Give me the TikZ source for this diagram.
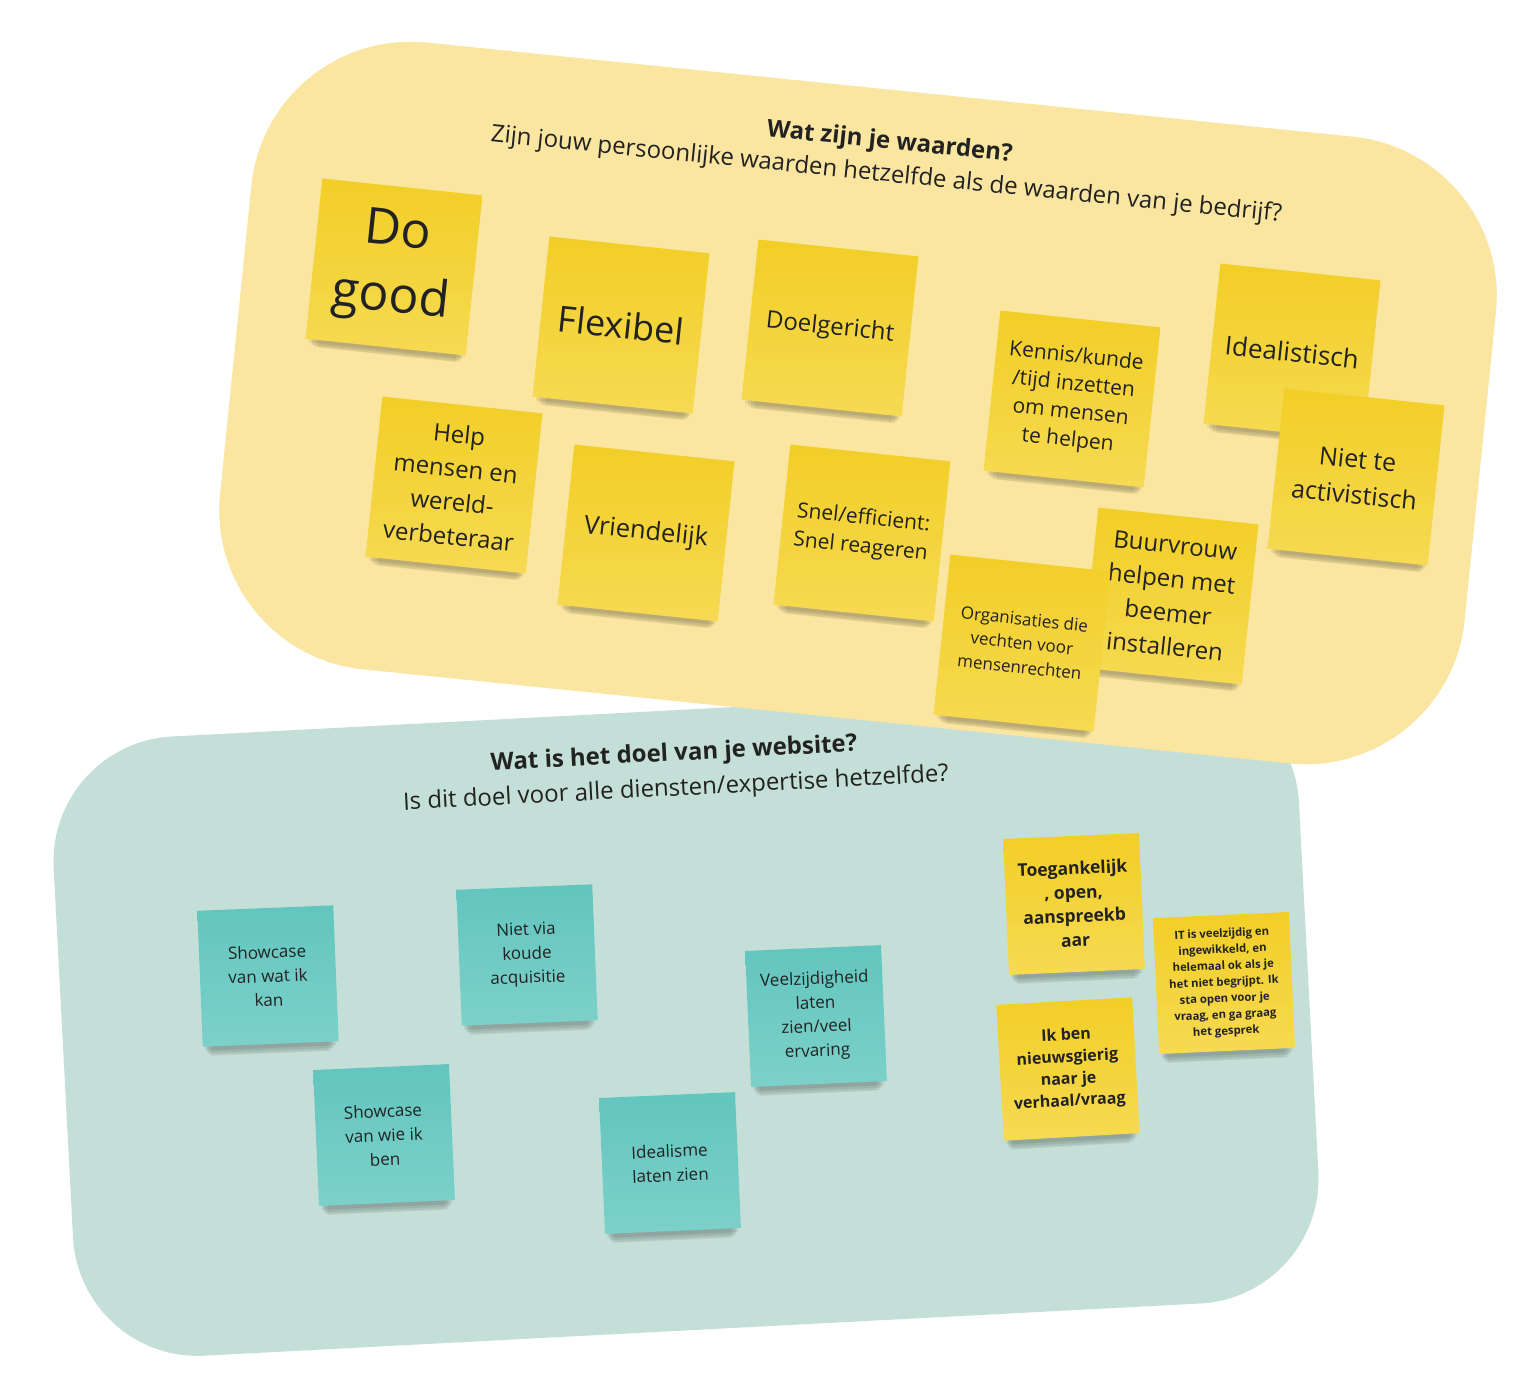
\documentclass[tikz,border=0pt]{standalone}
\usepackage{fontspec}
\setmainfont{Open Sans}
\usetikzlibrary{shadows}
\definecolor{ypanel}{RGB}{250,230,160}
\definecolor{tpanel}{RGB}{196,223,215}
\definecolor{ytop}{RGB}{242,206,38}
\definecolor{ybot}{RGB}{246,218,82}
\definecolor{ttop}{RGB}{98,197,190}
\definecolor{tbot}{RGB}{124,209,201}
\definecolor{ink}{RGB}{34,34,34}
\newcommand{\fs}[2]{\fontsize{#1}{#2}\selectfont}
\tikzset{
  panel/.style={inner sep=0pt, draw=none},
  liftshadow/.style={
    general shadow={fill=black, opacity=0.08, shadow scale=0.96, shadow yshift=-7pt},
    general shadow={fill=black, opacity=0.08, shadow scale=0.93, shadow yshift=-12pt},
    general shadow={fill=black, opacity=0.07, shadow scale=0.90, shadow yshift=-17pt},
    general shadow={fill=black, opacity=0.05, shadow scale=0.86, shadow yshift=-22pt}},
  sticky/.style={liftshadow, minimum width=#1, minimum height=#1, inner sep=0pt, align=center, text=ink},
  ysticky/.style={sticky=161pt, rotate=-6, top color=ytop, bottom color=ybot},
  tsticky/.style={sticky=136pt, rotate=#1, top color=ttop, bottom color=tbot},
  ysmall/.style={sticky=136pt, rotate=#1, top color=ytop, bottom color=ybot},
  title/.style={align=center, text=ink, inner sep=0pt}
}
\begin{document}
\begin{tikzpicture}[x=1pt,y=-1pt]
\useasboundingbox[fill=white] (0,0) rectangle (1520,1397);

% ---- teal panel ----
\node[panel, fill=tpanel, rotate=3, minimum width=1247pt, minimum height=620pt, rounded corners=125pt] (tp) at (686,1020) {};
\node[title, rotate=3, font=\fs{24}{35}] (ttitle) at (675,772) {\textbf{Wat is het doel van je website?}\\Is dit doel voor alle diensten/expertise hetzelfde?};

\node[tsticky=2.3, font=\fs{17}{24}] (show1) at (268,976) {Showcase\\van wat ik\\kan};
\node[tsticky=2.3, font=\fs{17}{24}] (nietvia) at (527,955) {Niet via\\koude\\acquisitie};
\node[tsticky=2.5, font=\fs{17}{24}] (show2) at (384,1135) {Showcase\\van wie ik\\ben};
\node[tsticky=2.5, font=\fs{17}{24}] (idealisme) at (670,1163) {Idealisme\\laten zien};
\node[tsticky=2.5, font=\fs{17}{24}] (veel) at (816,1016) {Veelzijdigheid\\laten\\zien/veel\\ervaring};
\node[ysmall=2.5, font=\fs{17.5}{24}\bfseries] (toeg) at (1074,904) {Toegankelijk\\, open,\\aanspreekb\\aar};
\node[ysmall=3.2, font=\fs{16}{22}\bfseries] (ikben) at (1068,1069) {Ik ben\\nieuwsgierig\\naar je\\verhaal/vraag};
\node[ysmall=2.6, font=\fs{11.3}{16.3}\bfseries] (it) at (1224,983) {IT is veelzijdig en\\ingewikkeld, en\\helemaal ok als je\\het niet begrijpt. Ik\\sta open voor je\\vraag, en ga graag\\het gesprek};

% ---- yellow panel ----
\node[panel, fill=ypanel, rotate=-5.8, minimum width=1251pt, minimum height=630pt, rounded corners=160pt] (yp) at (858,403) {};
\node[title, rotate=-5.8, font=\fs{24}{33}] (ytitle) at (888,159) {\textbf{Wat zijn je waarden?}\\Zijn jouw persoonlijke waarden hetzelfde als de waarden van je bedrijf?};

\node[ysticky, font=\fs{50}{66}] (dogood) at (394,267) {Do\\good};
\node[ysticky, font=\fs{36}{44}] (flex) at (621,325) {Flexibel};
\node[ysticky, font=\fs{24}{32}] (doel) at (830,328) {Doelgericht};
\node[ysticky, font=\fs{21}{28}] (kennis) at (1072,399) {Kennis/kunde\\/tijd inzetten\\om mensen\\te helpen};
\node[ysticky, font=\fs{26}{34}] (ideal) at (1292,352) {Idealistisch};
\node[ysticky, font=\fs{25}{36}] (niet) at (1356,477) {Niet te\\activistisch};
\node[ysticky, font=\fs{24}{34}] (help) at (454,485) {Help\\mensen en\\wereld-\\verbeteraar};
\node[ysticky, font=\fs{25.5}{34}] (vriend) at (646,533) {Vriendelijk};
\node[ysticky, font=\fs{21}{29}] (snel) at (862,533) {Snel/efficient:\\Snel reageren};
\node[ysticky, font=\fs{24}{34}] (buur) at (1170,596) {Buurvrouw\\helpen met\\beemer\\installeren};
\node[ysticky, font=\fs{17}{24}] (org) at (1022,643) {Organisaties die\\vechten voor\\mensenrechten};
\end{tikzpicture}
\end{document}
